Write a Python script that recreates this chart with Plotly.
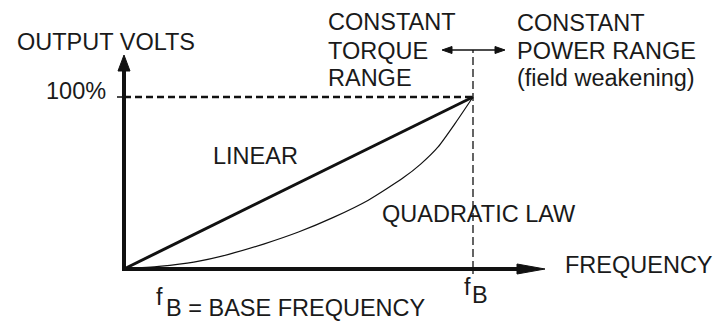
"""
Diagramma V/f: tensione d'uscita in funzione della frequenza
(legge lineare e legge quadratica)
"""

import plotly.graph_objects as go

# --- dati (percentuali di fB e di tensione nominale) ---
linear_freq = [0, 100]
linear_volts = [0, 100]

quad_freq = [0, 10, 20, 30, 40, 50, 60, 70, 80, 85, 90, 95, 100]
quad_volts = [0, 1.5, 4, 8.5, 14.5, 21.5, 30, 40, 53, 61, 71, 85, 100]

volt_ticks = [100]
volt_tick_labels = ["100%"]
freq_ticks = [100]

# --- mappa pixel -> dati (finestra 718x323, margini nulli) ---
W, H = 718, 323
X0_PX, X100_PX = 124, 473
Y0_PX, Y100_PX = 269, 97
SX = (X100_PX - X0_PX) / 100.0
SY = (Y0_PX - Y100_PX) / 100.0


def dx(p):
    return (p - X0_PX) / SX


def dy(p):
    return (Y0_PX - p) / SY


FONT = dict(family="Liberation Sans, Arial, Helvetica, sans-serif", size=23.5, color="#1a1a1a")
INK = "#111111"

fig = go.Figure()

fig.add_trace(go.Scatter(
    x=linear_freq, y=linear_volts, mode="lines",
    line=dict(color=INK, width=3), hoverinfo="skip"
))
fig.add_trace(go.Scatter(
    x=quad_freq, y=quad_volts, mode="lines",
    line=dict(color=INK, width=1.2, shape="spline", smoothing=0.6), hoverinfo="skip"
))

shapes = []

# linee tratteggiate di riferimento
shapes.append(dict(type="line", xref="x", yref="y",
                   x0=0, x1=freq_ticks[0], y0=volt_ticks[0], y1=volt_ticks[0],
                   line=dict(color=INK, width=2.5, dash="7px,4px")))
shapes.append(dict(type="line", xref="x", yref="y",
                   x0=freq_ticks[0], x1=freq_ticks[0], y0=0, y1=dy(50),
                   line=dict(color=INK, width=1.3, dash="8px,4px")))

# tacche
shapes.append(dict(type="line", xref="x", yref="y",
                   x0=dx(117), x1=0, y0=volt_ticks[0], y1=volt_ticks[0],
                   line=dict(color=INK, width=1.5)))
shapes.append(dict(type="line", xref="x", yref="y",
                   x0=freq_ticks[0], x1=freq_ticks[0], y0=0, y1=dy(274),
                   line=dict(color=INK, width=1.3)))

# assi con frecce
shapes.append(dict(type="line", xref="x", yref="y",
                   x0=0, x1=0, y0=dy(271), y1=dy(68),
                   line=dict(color=INK, width=4)))
shapes.append(dict(type="line", xref="x", yref="y",
                   x0=dx(122), x1=dx(520), y0=0, y1=0,
                   line=dict(color=INK, width=4)))


def tri(tip, base, half, vertical):
    # triangolo pieno: tip/base in pixel lungo l'asse, half = semilarghezza
    if vertical:
        pts = [(X0_PX, tip), (X0_PX - half, base), (X0_PX + half, base)]
    else:
        pts = [(tip, Y0_PX), (base, Y0_PX - half), (base, Y0_PX + half)]
    return pts


def path(pts):
    s = "M " + " L ".join(f"{dx(a):.3f},{dy(b):.3f}" for a, b in pts) + " Z"
    return dict(type="path", xref="x", yref="y", path=s,
                fillcolor=INK, line=dict(color=INK, width=1))


shapes.append(path(tri(55, 71, 6, True)))
shapes.append(path(tri(545, 517, 5, False)))

# freccia doppia tra i due campi
AY = 50
shapes.append(dict(type="line", xref="x", yref="y",
                   x0=dx(448), x1=dx(499), y0=dy(AY), y1=dy(AY),
                   line=dict(color=INK, width=1.6)))
shapes.append(path([(442, AY), (452, AY - 3.5), (452, AY + 3.5)]))
shapes.append(path([(505, AY), (495, AY - 3.5), (495, AY + 3.5)]))

fig.update_layout(shapes=shapes)


def label(text, x_px, y_px, anchor="left"):
    fig.add_annotation(x=dx(x_px), y=dy(y_px), xref="x", yref="y", text=text,
                       showarrow=False, xanchor=anchor, yanchor="middle",
                       font=FONT)


label("OUTPUT VOLTS", 15, 42)
label(volt_tick_labels[0], 108, 91, "right")
label("LINEAR", 211, 156)
label("QUADRATIC LAW", 380, 214)
label("FREQUENCY", 563, 265)

label("CONSTANT", 326, 22)
label("TORQUE", 326, 51)
label("RANGE", 326, 78)
label("CONSTANT", 515, 23)
label("POWER RANGE", 515, 51)
label("(field weakening)", 515, 78)

# fB sotto l'asse
label("f", 462, 287)
label("B", 470, 295)

# legenda in basso
label("f", 154, 297)
label("B = BASE FREQUENCY", 164, 308)

fig.update_layout(
    width=W, height=H,
    margin=dict(l=0, r=0, t=0, b=0),
    paper_bgcolor="white", plot_bgcolor="white",
    showlegend=False,
    xaxis=dict(range=[dx(0), dx(W)], visible=False, fixedrange=True),
    yaxis=dict(range=[dy(H), dy(0)], visible=False, fixedrange=True),
)

# il body ha 8px di margine di default: lo azzero
fig.write_html("out.html", config={"displayModeBar": False},
               post_script="document.body.style.margin='0';document.body.style.overflow='hidden';")
